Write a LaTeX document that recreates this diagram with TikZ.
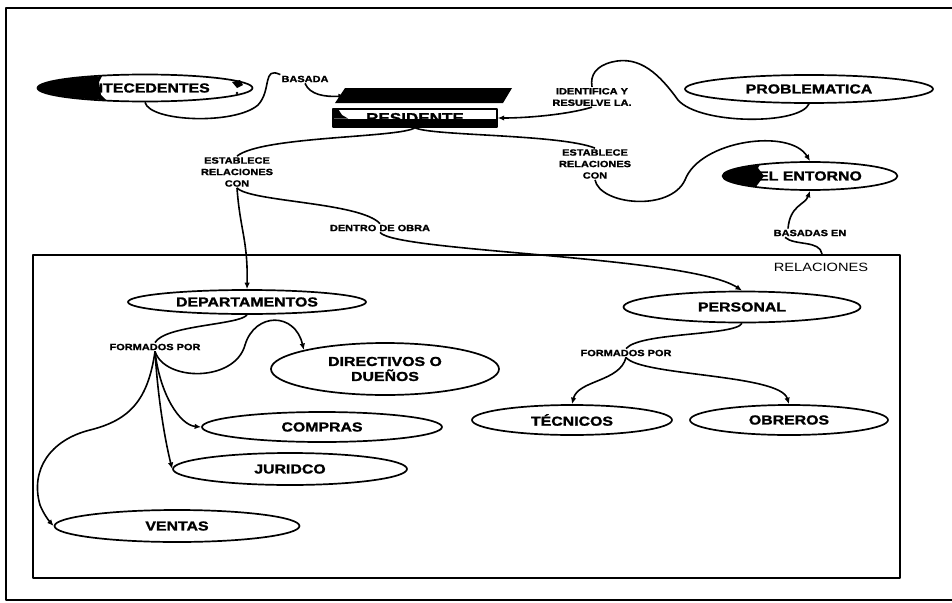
\documentclass[tikz,border=0pt]{standalone}
\usepackage{fontspec}
\setmainfont{Liberation Sans}
\newfontfamily\lblfont[FakeStretch=1.22, BoldFeatures={FakeBold=1.6}]{Liberation Sans}
\usetikzlibrary{arrows.meta,shapes.geometric,calc}
\newcommand\cmapbig{\lblfont\bfseries\fontsize{13}{15}\selectfont}
\newcommand\cmapsmall{\lblfont\bfseries\fontsize{9}{11.5}\selectfont}
\newcommand\cmaprel{\lblfont\fontsize{12}{14}\selectfont}
\newcommand\cmapres{\lblfont\bfseries\fontsize{14}{16}\selectfont}

\begin{document}
\begin{tikzpicture}[x=1pt,y=-1pt,line join=round,
  concept/.style={ellipse, draw, line width=1.7pt, fill=white, inner sep=0pt, align=center, font=\cmapbig},
  linklabel/.style={inner sep=1pt, align=center, font=\cmapsmall},
  conn/.style={line width=1.6pt},
  arr/.style={conn, -{Latex[length=6.5pt,width=5.5pt]}}]

\useasboundingbox (0,0) rectangle (952,602);
\fill[white] (0,0) rectangle (952,602);

% outer frame
\draw[line width=1.8pt] (952,8) -- (6,8) -- (6,600) -- (952,600);

% group box for the relations
\node[draw, line width=1.5pt, minimum width=867pt, minimum height=323pt, inner sep=0pt, anchor=north west] (relbox) at (32,254) {};
\node[font=\cmaprel, inner sep=1pt] (relname) at (821,267) {RELACIONES};
\coordinate (relTop) at (822,254);

% ---- upper concepts ----
\node[concept, minimum width=215pt, minimum height=27pt] (ante) at (145,88) {ANTECEDENTES};
\begin{scope}
  \clip (145,88) ellipse [x radius=107pt, y radius=13pt];
  \fill (30,70) -- (104,72) -- (99,82) -- (101,95) -- (112,106) -- (30,106) -- cycle;
\end{scope}
\fill (232,82) -- (240,80) -- (243,85) -- (237,88) -- cycle;
\fill (237,93) circle (1.3pt);

\node[linklabel] (basada) at (305,79) {BASADA};

% the resident box
\fill (345,88) -- (512,88) -- (503,103) -- (335,103) -- cycle;
\node[draw, line width=1.4pt, fill=white, minimum width=164pt, minimum height=18pt, inner sep=0pt, font=\cmapres] (res) at (415,118) {RESIDENTE};
\fill (333,118.5) rectangle (497,127.5);
\fill (333,109) -- (338,109) -- (342,115) -- (348,118.5) -- (333,118.5) -- cycle;
\coordinate (resTop) at (345,96);

\node[concept, minimum width=248pt, minimum height=28pt] (prob) at (809,89) {PROBLEMATICA};
\node[linklabel] (ident) at (592,97) {IDENTIFICA Y\\RESUELVE LA.};

\node[linklabel] (est1) at (237,172) {ESTABLECE\\RELACIONES\\CON};
\node[linklabel] (est2) at (595,164) {ESTABLECE\\RELACIONES\\CON};

\node[concept, minimum width=175pt, minimum height=28pt] (ent) at (810,176) {EL ENTORNO};
\begin{scope}
  \clip (810,176) ellipse [x radius=87pt, y radius=13.5pt];
  \fill (715,160) -- (762,161) -- (758,168) -- (764,176) -- (752,192) -- (715,192) -- cycle;
\end{scope}

\node[linklabel] (basadas) at (810,233) {BASADAS EN};
\node[linklabel] (dentro) at (380,228) {DENTRO DE OBRA};

% ---- inside the relations box ----
\node[concept, minimum width=238pt, minimum height=24pt] (dep) at (247,302) {DEPARTAMENTOS};
\node[linklabel] (form1) at (155,347) {FORMADOS POR};
\node[concept, minimum width=228pt, minimum height=52pt] (dir) at (385,369) {DIRECTIVOS O\\DUEÑOS};
\node[concept, minimum width=240pt, minimum height=30pt] (comp) at (322,427) {COMPRAS};
\node[concept, minimum width=234pt, minimum height=32pt] (jur) at (290,469) {JURIDCO};
\node[concept, minimum width=245pt, minimum height=32pt] (vent) at (177,526) {VENTAS};

\node[concept, minimum width=237pt, minimum height=31pt] (per) at (742,307) {PERSONAL};
\node[linklabel] (form2) at (626,353) {FORMADOS POR};
\node[concept, minimum width=200pt, minimum height=30pt] (tec) at (572,420) {TÉCNICOS};
\node[concept, minimum width=198pt, minimum height=30pt] (obr) at (789,420) {OBREROS};

% ---- connectors ----
\draw[conn] (ante.south) .. controls (150,122) and (235,125) .. (258,105)
  .. controls (272,90) and (262,66) .. (basada.north west);
\draw[arr] (basada.south) .. controls (310,95) and (325,97) .. (resTop);

\draw[conn] (prob.south) .. controls (800,125) and (700,125) .. (678,100)
  .. controls (660,75) and (640,55) .. (612,62)
  .. controls (596,66) and (590,75) .. (ident.north);
\draw[arr] (ident.south) .. controls (570,114) and (530,118) .. (res.east);

\draw[conn] (res.south) .. controls (400,138) and (262,136) .. (est1.north);
\draw[conn] (res.south) .. controls (430,136) and (560,134) .. (est2.north);

\draw[arr] (est2.south) .. controls (600,205) and (670,212) .. (685,180)
  .. controls (700,140) and (790,128) .. (ent.north);
\draw[conn] ($(basadas.south)+(-25,0)$) .. controls (795,246) and (820,240) .. (relTop);
\draw[arr] ($(basadas.north)+(-22,0)$) .. controls (790,205) and (805,205) .. (ent.south);

\draw[arr] (est1.south) .. controls (240,230) and (248,240) .. (dep.north);
\draw[conn] (est1.south) .. controls (250,202) and (360,202) .. (dentro.north);
\draw[arr] (dentro.south) .. controls (395,252) and (690,256) .. (per.north);

\draw[conn] (dep.south) .. controls (240,325) and (165,325) .. (form1.north);
\draw[arr] (form1.south) .. controls (165,382) and (235,382) .. (245,345)
  .. controls (255,312) and (295,312) .. (dir.north west);
\draw[arr] (form1.south) .. controls (160,395) and (180,425) .. (comp.west);
\draw[arr] (form1.south) .. controls (158,400) and (165,440) .. (jur.west);
\draw[arr] (form1.south) .. controls (148,400) and (130,420) .. (90,430)
  .. controls (50,440) and (30,470) .. (40,505)
  .. controls (44,515) and (50,522) .. (vent.west);

\draw[conn] (per.south) .. controls (735,336) and (640,332) .. (form2.north);
\draw[arr] (form2.south) .. controls (620,382) and (578,380) .. (tec.north);
\draw[arr] (form2.south) .. controls (640,376) and (780,374) .. (obr.north);
\end{tikzpicture}
\end{document}
